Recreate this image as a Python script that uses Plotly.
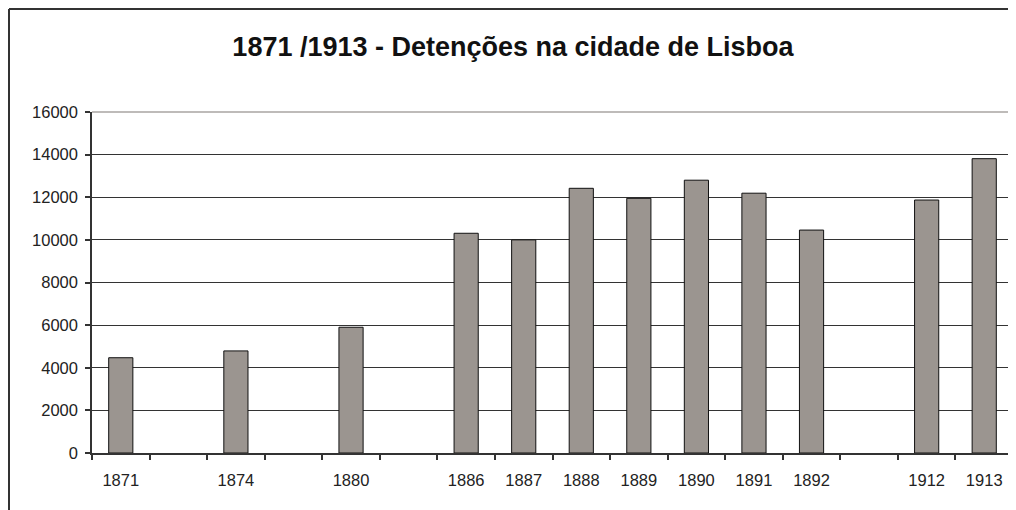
import plotly.graph_objects as go

years = ["1871", "1874", "1880", "1886", "1887", "1888", "1889", "1890", "1891", "1892", "1912", "1913"]
detencoes = [4470, 4790, 5900, 10310, 10000, 12420, 11950, 12800, 12190, 10460, 11870, 13810]
# empty category slots in the original axis (after these years)
gap_after = ["1871", "1874", "1880", "1892"]
y_ticks = [0, 2000, 4000, 6000, 8000, 10000, 12000, 14000, 16000]
title = "1871 /1913 - Detenções na cidade de Lisboa"

category_order = []
spacer = " "
for yr in years:
    category_order.append(yr)
    if yr in gap_after:
        category_order.append(spacer)
        spacer += " "

# page body has an 8px margin, so the figure starts at (8, 8)
OFF = 8
W, H = 1016 - OFF, 510 - OFF
L, T = 92 - OFF, 112 - OFF
R = W - (1013 - OFF)
B = H - (453 - OFF)
pw, ph = W - L - R, H - T - B

fig = go.Figure(go.Bar(
    x=years, y=detencoes,
    marker=dict(color="#9b9590", line=dict(color="#111111", width=1)),
    showlegend=False,
))

font = "Liberation Sans, Arial, sans-serif"
fig.update_layout(
    width=W, height=H,
    margin=dict(l=L, r=R, t=T, b=B),
    paper_bgcolor="white", plot_bgcolor="white",
    bargap=0.58,
    title=dict(text=title, x=(513 - OFF) / W, xref="container", xanchor="center",
               y=1 - (47 - OFF) / H, yref="container", yanchor="middle",
               font=dict(family=font, size=27, color="#111111", weight="bold")),
    font=dict(family=font, size=16.5, color="#222222"),
    xaxis=dict(type="category", categoryorder="array", categoryarray=category_order,
               range=[-0.5, len(category_order) - 0.5],
               tickson="boundaries", ticks="outside", ticklen=5, tickwidth=1.5,
               tickcolor="#333333", showline=True, linecolor="#333333", linewidth=1.5,
               showgrid=False, ticklabelstandoff=11,
               tickfont=dict(family=font, size=16.5, color="#222222")),
    yaxis=dict(range=[0, 16000], tickvals=y_ticks, tickformat="d",
               ticks="outside", ticklen=5, tickwidth=1.5, tickcolor="#333333",
               showline=True, linecolor="#333333", linewidth=1.5,
               showgrid=True, gridcolor="#333333", gridwidth=1,
               zeroline=False, ticklabelstandoff=4,
               tickfont=dict(family=font, size=16.5, color="#222222")),
    shapes=[
        # plot area border (top and right), grey
        dict(type="line", xref="paper", yref="paper", x0=0, x1=1, y0=1, y1=1,
             line=dict(color="#a8a4a2", width=1.5), layer="above"),
        dict(type="line", xref="paper", yref="paper", x0=1, x1=1, y0=0, y1=1,
             line=dict(color="#a8a4a2", width=1.5), layer="above"),
        # outer chart frame (left and top)
        dict(type="line", xref="paper", yref="paper",
             x0=(9 - 92) / pw, x1=(9 - 92) / pw, y0=-(B + 5) / ph, y1=1 + (112 - 9) / ph,
             line=dict(color="#333333", width=2)),
        dict(type="line", xref="paper", yref="paper",
             x0=(9 - 92) / pw, x1=1 + (R + 5) / pw, y0=1 + (112 - 9) / ph, y1=1 + (112 - 9) / ph,
             line=dict(color="#333333", width=2)),
    ],
)

fig.write_html("out.html")
